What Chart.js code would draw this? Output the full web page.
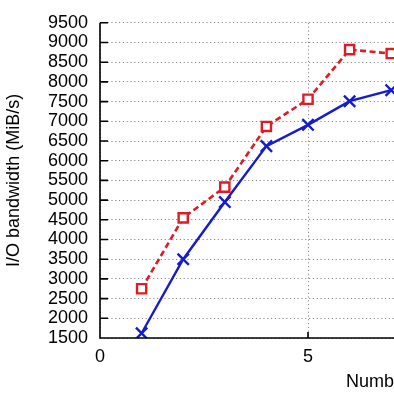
<!DOCTYPE html>
<html>
<head>
<meta charset="utf-8">
<script src="https://cdn.jsdelivr.net/npm/chart.js@4/dist/chart.umd.min.js"></script>
<style>
html, body { margin:0; padding:0; overflow:hidden; background:#fff; width:394px; height:394px; }
#wrap { width:750px; height:394px; }
</style>
</head>
<body>
<div id="wrap"><canvas id="c" width="750" height="394"></canvas></div>
<script>
const nodes = [1, 2, 3, 4, 5, 6, 7];
const seriesRed = [2750, 4550, 5330, 6870, 7560, 8820, 8720];
const seriesBlue = [1620, 3500, 4950, 6370, 6910, 7510, 7790];
const yTitle = 'I/O bandwidth (MiB/s)';
const xTitle = 'Number of nodes';

const FONT = '"Liberation Sans", Arial, Helvetica, sans-serif';

const axesAndTicks = {
  id: 'axesAndTicks',
  afterDatasetsDraw(chart) {
    const ctx = chart.ctx;
    const {x, y} = chart.scales;
    const a = chart.chartArea;
    ctx.save();
    ctx.setLineDash([]);
    ctx.strokeStyle = '#000';
    ctx.lineWidth = 1.6;
    ctx.beginPath();
    ctx.moveTo(a.left, a.top); ctx.lineTo(a.left, a.bottom); ctx.lineTo(a.right, a.bottom);
    y.ticks.forEach((t, i) => {
      const py = y.getPixelForTick(i);
      ctx.moveTo(a.left, py); ctx.lineTo(a.left + 8, py);
    });
    x.ticks.forEach((t, i) => {
      const px = x.getPixelForTick(i);
      ctx.moveTo(px, a.bottom); ctx.lineTo(px, a.bottom - 6);
    });
    ctx.stroke();
    ctx.restore();
  }
};

new Chart(document.getElementById('c'), {
  type: 'line',
  data: {
    datasets: [
      {
        data: nodes.map((n, i) => ({x: n, y: seriesRed[i]})),
        borderColor: 'rgb(222,28,38)',
        backgroundColor: '#fff',
        borderWidth: 2.6,
        borderDash: [6, 3.5],
        pointStyle: 'rect',
        pointRadius: 6.5,
        pointBorderWidth: 2.4,
        pointBorderColor: 'rgb(222,28,38)',
        pointBackgroundColor: '#fff',
        tension: 0
      },
      {
        data: nodes.map((n, i) => ({x: n, y: seriesBlue[i]})),
        borderColor: 'rgb(20,28,205)',
        backgroundColor: 'rgb(20,28,205)',
        borderWidth: 2.4,
        pointStyle: 'crossRot',
        pointRadius: 8,
        pointBorderWidth: 2.4,
        pointBorderColor: 'rgb(20,28,205)',
        tension: 0
      }
    ]
  },
  options: {
    responsive: false,
    animation: false,
    devicePixelRatio: 1,
    layout: { padding: { left: 0, right: 20, top: 20, bottom: 0 } },
    plugins: { legend: { display: false }, tooltip: { enabled: false } },
    scales: {
      x: {
        type: 'linear',
        min: 0, max: 15.144,
        ticks: { stepSize: 5, includeBounds: false, autoSkip: false, color: '#000', font: { family: FONT, size: 18 }, padding: 8,
                 callback: v => String(v) },
        grid: { color: '#8a8a8a', lineWidth: 1, drawTicks: false },
        border: { display: false, dash: [1.2, 2.6] },
        title: { display: true, text: xTitle, color: '#000', font: { family: FONT, size: 18 }, padding: { top: 0, bottom: 1 } },
        afterFit: s => { s.height = 56; }
      },
      y: {
        min: 1500, max: 9500,
        ticks: { stepSize: 500, autoSkip: false, color: '#000', font: { family: FONT, size: 18 }, padding: 12,
                 callback: v => String(v) },
        grid: { color: '#8a8a8a', lineWidth: 1, drawTicks: false },
        border: { display: false, dash: [1.2, 2.6] },
        title: { display: true, text: yTitle, color: '#000', font: { family: FONT, size: 18 }, padding: { top: 3, bottom: 0 } },
        afterFit: s => { s.width = 100; }
      }
    }
  },
  plugins: [axesAndTicks]
});
</script>
</body>
</html>
